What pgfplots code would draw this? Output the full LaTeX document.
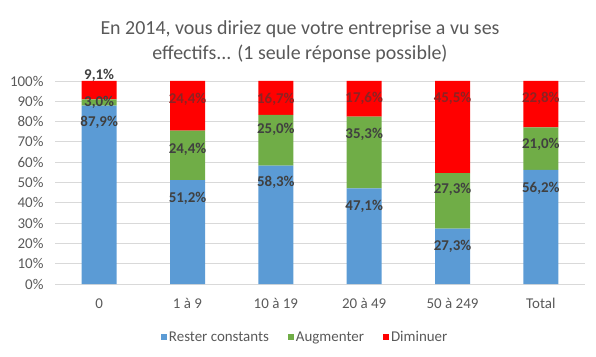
\documentclass[border=0pt]{standalone}
\usepackage{pgfplots}
\pgfplotsset{compat=1.18}
\usepackage{pgfplotstable}
\usepackage{fontspec}
\setmainfont{Carlito}
\definecolor{cblue}{HTML}{5B9BD5}
\definecolor{cgreen}{HTML}{70AD47}
\definecolor{cred}{HTML}{FF0000}
\definecolor{grid}{HTML}{D9D9D9}
\definecolor{txt}{HTML}{595959}
\definecolor{lab}{HTML}{404040}
\definecolor{labred}{RGB}{140,35,35}

% category, value, label position (%), label redness (0..100)
\pgfplotstableread{
x y p c
0 87.9 79.4 0
1 51.2 42.3 0
2 58.3 50.0 0
3 47.1 38.4 0
4 27.3 18.7 0
5 56.2 47.2 0
}\tblue
\pgfplotstableread{
x y p c
0 3.0 89.4 0
1 24.4 66.4 0
2 25.0 76.2 0
3 35.3 73.5 0
4 27.3 46.4 0
5 21.0 68.6 0
}\tgreen
\pgfplotstableread{
x y p c
0 9.1 102.6 0
1 24.4 91.1 100
2 16.7 91.1 100
3 17.6 91.6 100
4 45.5 91.6 100
5 22.8 91.6 100
}\tred

\pgfplotsset{common/.style={
  at={(55bp,72bp)}, anchor=south west,
  width=530bp, height=203bp, scale only axis,
  xmin=-0.5, xmax=5.5, ymin=0, ymax=100}}

\begin{document}
\begin{tikzpicture}[x=1bp,y=1bp]
\path[use as bounding box] (0,0) rectangle (596,356);
\node[anchor=base, text=txt, font=\fontsize{20}{24}\selectfont] at (300,322) {En 2014, vous diriez que votre entreprise a vu ses};
\node[anchor=base, text=txt, font=\fontsize{20}{24}\selectfont] at (300,297) {effectifs... (1 seule réponse possible)};
\begin{axis}[
  common,
  ybar stacked, bar width=35bp,
  xtick={0,...,5},
  xticklabels={0, 1 à 9, 10 à 19, 20 à 49, 50 à 249, Total},
  ytick={0,10,...,100},
  yticklabel={\pgfmathprintnumber{\tick}\%},
  /pgf/number format/assume math mode=true,
  ymajorgrids,
  major grid style={draw=grid, line width=0.9bp},
  axis line style={draw=none},
  major tick length=0pt,
  tick label style={font=\fontsize{15}{18}\selectfont, text=txt},
  yticklabel style={xshift=-8bp},
  xticklabel style={yshift=-11bp},
  legend style={at={(0.472,-0.261)}, anchor=center, draw=none, fill=none,
    font=\fontsize{15}{18}\selectfont, text=txt, legend columns=-1,
    /tikz/every even column/.append style={column sep=17bp}},
  legend cell align=left,
]
\addplot[fill=cblue, draw=none, legend image code/.code={\fill[cblue] (0bp,-3bp) rectangle (6bp,3bp);}] table[x=x, y=y] {\tblue};
\addplot[fill=cgreen, draw=none, legend image code/.code={\fill[cgreen] (0bp,-3bp) rectangle (6bp,3bp);}] table[x=x, y=y] {\tgreen};
\addplot[fill=cred, draw=none, legend image code/.code={\fill[cred] (0bp,-3bp) rectangle (6bp,3bp);}] table[x=x, y=y] {\tred};
\legend{Rester constants, Augmenter, Diminuer}
\end{axis}
\begin{axis}[
  common, hide axis, clip=false,
  nodes near coords={\pgfmathprintnumber[fixed,fixed zerofill,precision=1,use comma,assume math mode=true]{\pgfplotspointmeta}\%},
  point meta=explicit,
  visualization depends on={\thisrow{c}\as\mycol},
  every node near coord/.append style={anchor=center, inner sep=0pt, font=\bfseries\fontsize{15}{18}\selectfont, text=labred!\mycol!lab},
]
\addplot[only marks, mark=none] table[x=x, y=p, meta=y] {\tblue};
\addplot[only marks, mark=none] table[x=x, y=p, meta=y] {\tgreen};
\addplot[only marks, mark=none] table[x=x, y=p, meta=y] {\tred};
\end{axis}
\end{tikzpicture}
\end{document}
